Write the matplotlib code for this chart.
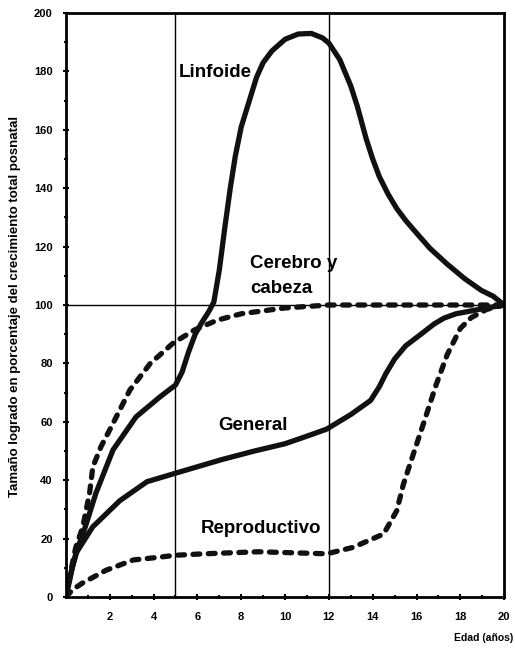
import matplotlib.pyplot as plt

plt.rcParams['font.family'] = ['Liberation Sans', 'DejaVu Sans']

# curvas de crecimiento (edad en años, % del crecimiento total posnatal)
linf_x = [0, 0.15, 0.3, 0.55, 0.84, 1.37, 2.15, 3.2, 4.3, 5.0, 5.3, 5.6, 5.9, 6.2, 6.5,
          6.75, 7.0, 7.26, 7.5, 7.73, 8.0, 8.33, 8.7, 9.0, 9.4, 10.0, 10.6, 11.2, 11.7,
          12.0, 12.5, 13.0, 13.3, 13.7, 14.0, 14.3, 14.7, 15.1, 15.5, 15.9, 16.6, 17.4,
          18.2, 18.96, 19.5, 20]
linf_y = [0, 5, 10.4, 17, 23, 35.6, 50.4, 61.7, 68.6, 72.6, 77, 84, 90, 94, 97.5,
          101, 112, 127, 140, 151, 161, 169, 178, 183, 187, 191, 192.8, 193, 191.5,
          189.7, 184, 175, 168, 157, 150, 144, 138, 133, 129, 125.5, 119.5, 114,
          109, 105, 103, 100]

cer_x = [0, 0.2, 0.45, 0.77, 1.08, 1.23, 1.6, 2.07, 2.92, 3.85, 4.9, 5.85, 6.9, 8.0, 10.0,
         12.0, 14.0, 16.0, 18.0, 20]
cer_y = [0, 8, 17, 24, 35.6, 44.6, 51.5, 58.3, 70.9, 80, 87, 91.4, 94.8, 97, 99,
         100, 100, 100, 100, 100]

gen_x = [0, 0.15, 0.46, 1.22, 2.46, 3.7, 5.0, 7.08, 8.6, 10.0, 10.85, 11.9, 13.0, 13.9,
         14.3, 14.6, 15.0, 15.5, 16.2, 16.8, 17.25, 17.8, 18.3, 19.2, 20]
gen_y = [0, 6, 15, 24, 33, 39.5, 42.4, 47, 50, 52.5, 54.7, 57.5, 62.5, 67.3,
         72, 76.5, 81.5, 86, 90, 93.5, 95.5, 97, 97.7, 99, 100]

rep_x = [0, 0.3, 0.76, 1.84, 3.08, 4.1, 5.0, 6.3, 8.8, 11.9, 13.1, 14.5, 15.1, 15.4, 15.9,
         16.3, 16.9, 17.4, 18.0, 18.5, 19.2, 20]
rep_y = [0, 2.5, 4.8, 9.2, 12.7, 13.5, 14.3, 14.8, 15.5, 14.8, 17, 21.6, 29.6, 38.6, 50,
         59, 72.8, 83, 92, 95.7, 98.5, 100]

fig = plt.figure(figsize=(5.15, 6.5), dpi=100)
ax = fig.add_axes([0.128, 0.0815, 0.851, 0.8985])

# lineas guia
ax.axvline(5, color='black', lw=1)
ax.axvline(12, color='black', lw=1)
ax.axhline(100, color='black', lw=1)

ax.plot(linf_x, linf_y, color='#111111', lw=3.8, solid_joinstyle='round', solid_capstyle='round')
ax.plot(gen_x, gen_y, color='#111111', lw=3.8, solid_joinstyle='round', solid_capstyle='round')
ax.plot(cer_x, cer_y, color='#111111', lw=3.8, linestyle=(0, (1.3, 1.6)), dash_capstyle='round')
ax.plot(rep_x, rep_y, color='#111111', lw=3.8, linestyle=(0, (1.3, 1.6)), dash_capstyle='round')

ax.text(5.15, 178.2, 'Linfoide', fontsize=13.5, fontweight='bold', va='baseline')
ax.text(8.41, 112.7, 'Cerebro y', fontsize=13.5, fontweight='bold', va='baseline')
ax.text(8.41, 104.1, 'cabeza', fontsize=13.5, fontweight='bold', va='baseline')
ax.text(6.95, 57.2, 'General', fontsize=13.5, fontweight='bold', va='baseline')
ax.text(6.15, 21.9, 'Reproductivo', fontsize=13.5, fontweight='bold', va='baseline')

ax.set_xlim(0, 20)
ax.set_ylim(0, 200)
ax.set_xticks(range(2, 21, 2))
ax.set_xticks(range(0, 21), minor=True)
ax.set_yticks(range(0, 201, 20))
ax.set_yticks(range(0, 201, 10), minor=True)
ax.tick_params(which='both', direction='inout', width=1.5, labelsize=8)
ax.tick_params(which='major', length=5)
ax.tick_params(which='minor', length=3)
ax.tick_params(axis='x', pad=8)
ax.tick_params(axis='y', pad=7)
for lab in ax.get_xticklabels() + ax.get_yticklabels():
    lab.set_fontweight('bold')
for s in ax.spines.values():
    s.set_linewidth(2)

fig.text(0.03, 0.528, 'Tamaño logrado en porcentaje del crecimiento total posnatal',
         rotation=90, ha='center', va='center', fontsize=9.5, fontweight='bold')
fig.text(0.997, 0.018, 'Edad (años)', ha='right', va='center', fontsize=7.5, fontweight='bold')

fig.savefig('out.png', dpi=100)
